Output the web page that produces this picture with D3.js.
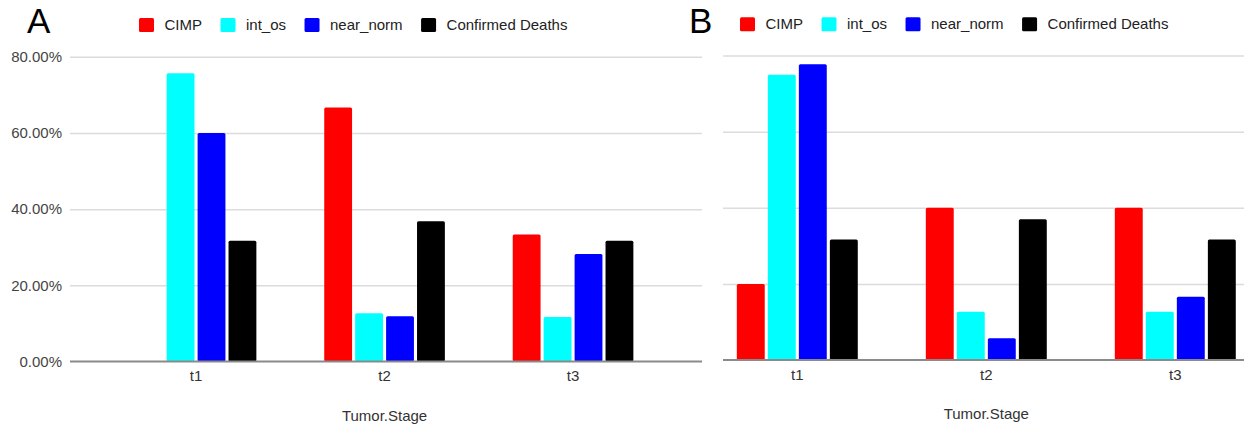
<!DOCTYPE html>
<html>
<head>
<meta charset="utf-8">
<script src="https://cdn.jsdelivr.net/npm/d3@7"></script>
<style>
  body { margin: 0; background: #fff; }
  svg { display: block; font-family: "Liberation Sans", Arial, sans-serif; }
  .grid line { stroke: #dcdcdc; stroke-width: 1.5; }
  .grid .domain { display: none; }
  .grid text { fill: #444; font-size: 15px; }
  .xaxis .domain { display: none; }
  .xaxis text { fill: #333; font-size: 15px; }
</style>
</head>
<body>
<div id="chart"></div>
<script>
// data
let stages = ['t1', 't2', 't3']
let seriesNames = ['CIMP', 'int_os', 'near_norm', 'Confirmed Deaths']
let seriesColors = ['#ff0000', '#00ffff', '#0000ff', '#000000']
let yTicks = [0, 20, 40, 60, 80]

// panel A
let a_cimp = [0, 66.67, 33.33]
let a_int_os = [75.7, 12.7, 11.7]
let a_near_norm = [60.0, 11.9, 28.2]
let a_deaths = [31.7, 36.8, 31.7]

// panel B
let b_cimp = [20.0, 40.0, 40.0]
let b_int_os = [75.0, 12.7, 12.7]
let b_near_norm = [77.7, 5.7, 16.6]
let b_deaths = [31.7, 37.0, 31.7]

let W = 1244, H = 429
let svg = d3.select('#chart').append('svg')
    .attr('width', W)
    .attr('height', H)

function drawPanel(opt) {
    let g = svg.append('g')
    let values = [opt.cimp, opt.int_os, opt.near_norm, opt.deaths]

    let y = d3.scaleLinear()
        .domain([0, 80])
        .range([opt.yBottom, opt.yTop])

    let x0 = d3.scaleBand()
        .domain(stages)
        .range([opt.bandStart, opt.bandStart + 3 * opt.step])
        .paddingInner(0.36)
        .paddingOuter(0.18)
    let x1 = d3.scaleBand()
        .domain(seriesNames)
        .range([0, x0.bandwidth()])
        .paddingInner(0.1)

    // gridlines + y labels
    let axis_y = d3.axisLeft(y)
        .tickValues(yTicks)
        .tickSize(-(opt.plotRight - opt.plotLeft))
        .tickPadding(8)
        .tickFormat(d => opt.showY ? d.toFixed(2) + '%' : '')
    let gy = g.append('g')
        .attr('class', 'grid')
        .attr('transform', `translate(${opt.plotLeft}, 0)`)
        .call(axis_y)
    gy.selectAll('.tick').filter(d => d === 0).select('line').remove()

    // bars
    let rows = []
    stages.forEach((s, i) => {
        seriesNames.forEach((n, j) => {
            rows.push({stage: s, name: n, value: values[j][i], color: seriesColors[j]})
        })
    })
    g.append('g')
        .selectAll('rect')
        .data(rows.filter(d => d.value > 0))
        .enter()
        .append('rect')
        .attr('x', d => x0(d.stage) + x1(d.name))
        .attr('y', d => y(d.value))
        .attr('width', x1.bandwidth())
        .attr('height', d => y(0) - y(d.value))
        .attr('rx', 1.5)
        .attr('fill', d => d.color)

    // baseline
    g.append('line')
        .attr('x1', opt.plotLeft)
        .attr('x2', opt.plotRight)
        .attr('y1', y(0))
        .attr('y2', y(0))
        .attr('stroke', '#8a8a8a')
        .attr('stroke-width', 2)

    // x labels
    let axis_x = d3.axisBottom(x0).tickSize(0).tickPadding(opt.xPad)
    g.append('g')
        .attr('class', 'xaxis')
        .attr('transform', `translate(0, ${y(0)})`)
        .call(axis_x)

    g.append('text')
        .attr('x', x0('t2') + x0.bandwidth() / 2)
        .attr('y', opt.titleY)
        .attr('text-anchor', 'middle')
        .attr('font-size', '15px')
        .attr('fill', '#333')
        .text('Tumor.Stage')

    // panel letter
    g.append('text')
        .attr('x', opt.letterX)
        .attr('y', 33)
        .attr('font-size', '35px')
        .attr('fill', '#000')
        .text(opt.letter)

    // legend
    let lx = opt.legendX
    seriesNames.forEach((n, j) => {
        g.append('rect')
            .attr('x', lx)
            .attr('y', opt.legendY - 12)
            .attr('width', 15)
            .attr('height', 14)
            .attr('rx', 1.5)
            .attr('fill', seriesColors[j])
        let t = g.append('text')
            .attr('x', lx + 25.5)
            .attr('y', opt.legendY)
            .attr('font-size', '15px')
            .attr('fill', '#222')
            .text(n)
        lx += 25.5 + t.node().getComputedTextLength() + 18.5
    })
}

drawPanel({
    letter: 'A', letterX: 27, legendX: 139, legendY: 30,
    cimp: a_cimp, int_os: a_int_os, near_norm: a_near_norm, deaths: a_deaths,
    yBottom: 361.5, yTop: 56.8,
    plotLeft: 70, plotRight: 702,
    bandStart: 101.8, step: 188.5,
    showY: true, xPad: 9, titleY: 421
})

drawPanel({
    letter: 'B', letterX: 689, legendX: 740, legendY: 29.3,
    cimp: b_cimp, int_os: b_int_os, near_norm: b_near_norm, deaths: b_deaths,
    yBottom: 360, yTop: 55.6,
    plotLeft: 723, plotRight: 1244,
    bandStart: 702.8, step: 189,
    showY: false, xPad: 9, titleY: 419
})
</script>
</body>
</html>
